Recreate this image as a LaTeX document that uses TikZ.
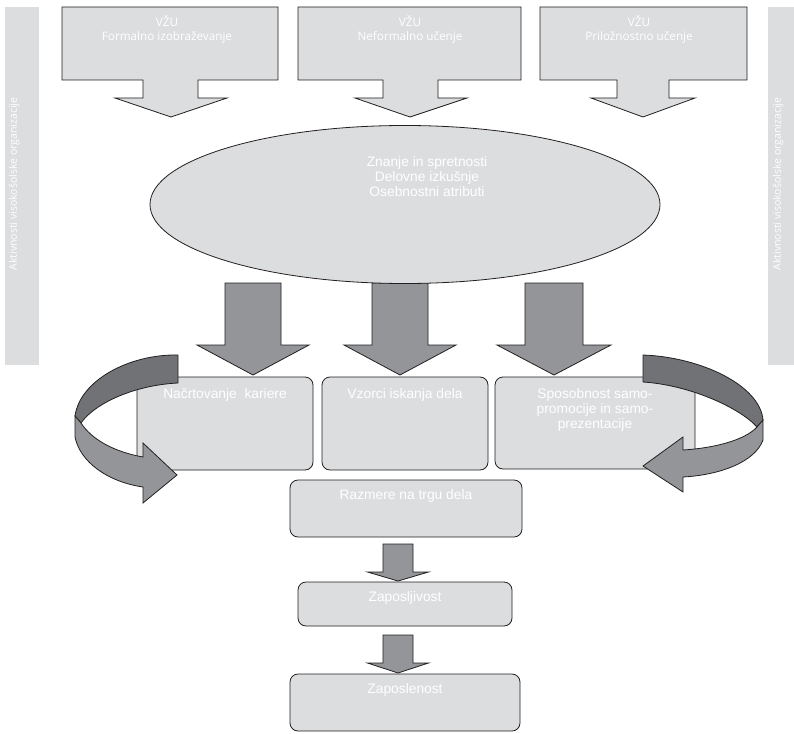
\documentclass[tikz,border=0pt]{standalone}
\usepackage{fontspec}
\usetikzlibrary{shapes.geometric}
\newfontfamily\arialfont{Liberation Sans}
\newfontfamily\humanistfont{Open Sans}
\definecolor{panel}{HTML}{DCDDDE}
\definecolor{arrowgray}{HTML}{939598}
\definecolor{bandgray}{HTML}{717275}
\definecolor{edge}{HTML}{231F20}

% down-pointing block arrow: centre x, top y, stem bottom y, tip y, stem half width, head half width
\newcommand\downblock[6]{%
  \draw[blockarrow] (#1-#5,#2) -- (#1+#5,#2) -- (#1+#5,#3) -- (#1+#6,#3)
    -- (#1,#4) -- (#1-#6,#3) -- (#1-#5,#3) -- cycle;}

\tikzset{
  sidebar/.style={fill=panel, draw=none},
  sidetext/.style={text=white, font=\humanistfont\fontsize{10.5}{12}\selectfont, rotate=90, inner sep=0pt},
  callout/.style={fill=panel, draw=edge, line width=0.8pt, line join=miter},
  callouttext/.style={text=white, font=\humanistfont\fontsize{11.7}{14}\selectfont, align=center, inner sep=0pt},
  stagebox/.style={fill=panel, draw=edge, line width=0.8pt, rounded corners=8pt, inner sep=0pt},
  boxtext/.style={text=white, font=\arialfont\fontsize{13.8}{15}\selectfont, align=center, inner sep=0pt},
  blockarrow/.style={fill=arrowgray, draw=edge, line width=0.8pt, line join=miter},
  band/.style={fill=bandgray, draw=edge, line width=0.8pt, line join=round},
}

\begin{document}
\begin{tikzpicture}[x=1pt, y=-1pt]
\useasboundingbox (0,0) rectangle (794,733);

% side bars
\fill[sidebar] (5,7) rectangle (39,365);
\node[sidetext] (leftbar) at (14,184) {Aktivnosti visokošolske organizacije};
\fill[sidebar] (768,7) rectangle (802,365);
\node[sidetext] (rightbar) at (778,184) {Aktivnosti visokošolske organizacije};

% three sources, each a box with a downward arrow
\draw[callout] (62,7) -- (278,7) -- (278,80) -- (198,80) -- (198,98) -- (227,98)
  -- (171,117) -- (115,98) -- (143,98) -- (143,80) -- (62,80) -- cycle;
\node[callouttext] (formal) at (167,29) {VŽU\\Formalno izobraževanje};

\draw[callout] (298,7) -- (521,7) -- (521,80) -- (438,80) -- (438,98) -- (467,98)
  -- (410,117) -- (355,98) -- (383,98) -- (383,80) -- (298,80) -- cycle;
\node[callouttext] (nonformal) at (410,29) {VŽU\\Neformalno učenje};

\draw[callout] (540,7) -- (747,7) -- (747,80) -- (669,80) -- (669,98) -- (695,98)
  -- (643,117) -- (591,98) -- (617,98) -- (617,80) -- (540,80) -- cycle;
\node[callouttext] (informal) at (639,29) {VŽU\\Priložnostno učenje};

% thick arrows below the ellipse
\downblock{253}{283}{345}{375}{28}{56}
\downblock{400}{283}{345}{375}{28}{56}
\downblock{554}{283}{345}{375}{29}{57}

% central ellipse
\node[ellipse, fill=panel, draw=edge, line width=0.8pt, minimum width=510pt, minimum height=158pt, inner sep=0pt] (core) at (405,204.5) {};
\node[boxtext] (coretext) at (427,177) {Znanje in spretnosti\\Delovne izkušnje\\Osebnostni atributi};

% middle row of boxes
\node[stagebox, minimum width=176pt, minimum height=93pt] (plan) at (225,423.5) {};
\node[boxtext] (plantext) at (225,395) {Načrtovanje\ \ kariere};
\node[stagebox, minimum width=166pt, minimum height=93pt] (search) at (405,423.5) {};
\node[boxtext] (searchtext) at (405,395) {Vzorci iskanja dela};
\node[stagebox, minimum width=200pt, minimum height=92pt] (promo) at (595,423) {};
\node[boxtext] (promotext) at (595,410) {Sposobnost samo-\\promocije in samo-\\prezentacije};

% curved arrow on the left
\draw[band] (178,355) .. controls (130,354) and (80,380) .. (75,416) -- (81,423)
  .. controls (95,403) and (135,385) .. (178,383) -- cycle;
\draw[blockarrow] (75,416) -- (75,437) .. controls (80,462) and (108,482) .. (143,487)
  -- (143,503) -- (177,475) -- (143,443) -- (143,457)
  .. controls (115,452) and (92,440) .. (81,423) -- cycle;

% curved arrow on the right
\draw[band] (643,355) .. controls (700,357) and (760,385) .. (763,420) -- (757,427)
  .. controls (740,408) and (690,385) .. (643,382) -- cycle;
\draw[blockarrow] (763,420) -- (763,440) .. controls (755,462) and (720,475) .. (683,477)
  -- (683,492) -- (643,466) -- (683,437) -- (683,450)
  .. controls (715,448) and (745,440) .. (757,427) -- cycle;

% lower chain
\node[stagebox, minimum width=232pt, minimum height=57pt] (market) at (406,508.5) {};
\node[boxtext] (markettext) at (406,496) {Razmere na trgu dela};
\downblock{398}{544}{572}{581}{15}{30.5}
\node[stagebox, minimum width=214pt, minimum height=44pt] (employability) at (405,604) {};
\node[boxtext] (employabilitytext) at (405,598) {Zaposljivost};
\downblock{398}{635}{663}{673}{15}{30.5}
\node[stagebox, minimum width=230pt, minimum height=57pt] (employment) at (405,702.5) {};
\node[boxtext] (employmenttext) at (405,690) {Zaposlenost};
\end{tikzpicture}
\end{document}
